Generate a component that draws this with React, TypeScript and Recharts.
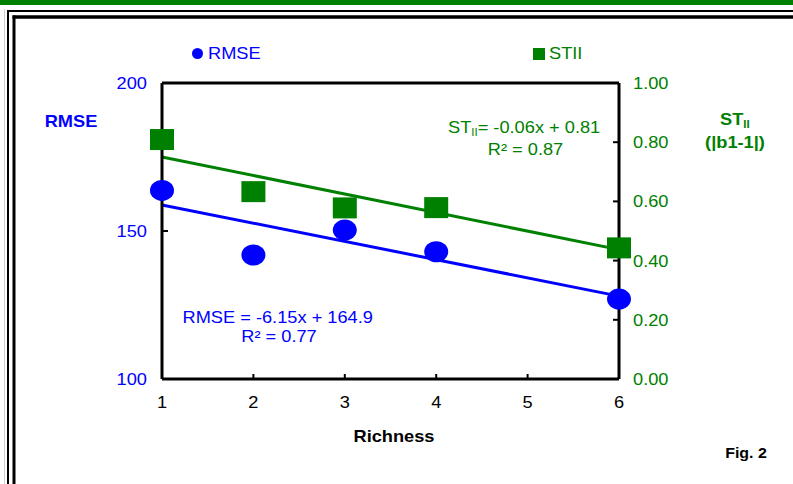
// Richness vs RMSE and ST_II scatter with linear trend lines (Fig. 2).
import type { FC } from "react";
import {
  ComposedChart,
  Scatter,
  XAxis,
  YAxis,
  ReferenceLine,
} from "recharts";

const richness = [1, 2, 3, 4, 6];
const rmseValues = [163.7, 141.9, 150.3, 143.0, 127.0];
const stiiValues = [0.809, 0.633, 0.578, 0.579, 0.443];

// trend lines, read at the two ends of the x range
const trendX = [1, 6];
const rmseTrend = [158.8, 128.0];
const stiiTrend = [0.75, 0.437];

const xTicks = [1, 2, 3, 4, 5, 6];
const leftTicks = [100, 150, 200];
const rightTicks = [0, 0.2, 0.4, 0.6, 0.8, 1.0];

const rmseData = richness.map((x, i) => ({ x, y: rmseValues[i] }));
const stiiData = richness.map((x, i) => ({ x, y: stiiValues[i] }));

const BLUE = "#0000FF";
const GREEN = "#008000";
const FONT = "'Liberation Sans', Arial, Helvetica, sans-serif";
const SX = 1.14;
const AXIS = { stroke: "#000", strokeWidth: 3 };

const T: FC<{
  x: number;
  y: number;
  size?: number;
  bold?: boolean;
  fill?: string;
  anchor?: "start" | "middle" | "end";
  children: any;
}> = ({ x, y, size = 16, bold = false, fill = "#000", anchor = "start", children }) => (
  <text
    transform={`translate(${x},${y}) scale(${SX},1)`}
    fontFamily={FONT}
    fontSize={size}
    fontWeight={bold ? "bold" : "normal"}
    fill={fill}
    textAnchor={anchor}
  >
    {children}
  </text>
);

const XTick = (props: any) => {
  const { x, y, payload } = props;
  return (
    <g>
      <line x1={x} y1={y} x2={x} y2={y - 5} stroke="#000" strokeWidth={2} />
      <T x={x} y={y + 29} anchor="middle">
        {payload.value}
      </T>
    </g>
  );
};

const LeftTick = (props: any) => {
  const { x, y, payload } = props;
  return (
    <g>
      <line x1={x} y1={y} x2={x + 6} y2={y} stroke="#000" strokeWidth={2} />
      <T x={x - 15} y={y + 6} anchor="end" fill={BLUE}>
        {payload.value}
      </T>
    </g>
  );
};

const RightTick = (props: any) => {
  const { x, y, payload } = props;
  return (
    <g>
      <line x1={x} y1={y} x2={x - 6} y2={y} stroke="#000" strokeWidth={2} />
      <T x={x + 14} y={y + 6} anchor="start" fill={GREEN}>
        {Number(payload.value).toFixed(2)}
      </T>
    </g>
  );
};

const CircleMark = (p: any) => <ellipse cx={p.cx} cy={p.cy} rx={12} ry={10.5} fill={BLUE} />;
const SquareMark = (p: any) => (
  <rect x={p.cx - 12} y={p.cy - 10.5} width={24} height={21} fill={GREEN} />
);

const Backdrop: FC = () => (
  <svg
    width={793}
    height={484}
    style={{ position: "absolute", left: 0, top: 0 }}
  >
    <rect x={0} y={0} width={793} height={5} fill={GREEN} />
    <line x1={4.5} y1={9} x2={4.5} y2={484} stroke="#d0d0d0" strokeWidth={1} />
    {/* outer thin frame */}
    <line x1={7} y1={11} x2={793} y2={11} stroke="#000" strokeWidth={2} />
    <line x1={8} y1={10} x2={8} y2={484} stroke="#000" strokeWidth={2} />
    {/* inner thick frame */}
    <line x1={12.5} y1={17} x2={793} y2={17} stroke="#000" strokeWidth={3.5} />
    <line x1={14} y1={15.5} x2={14} y2={484} stroke="#000" strokeWidth={3} />

    {/* legend */}
    <circle cx={197.5} cy={53.5} r={5.5} fill={BLUE} />
    <T x={208} y={58.5} fill={BLUE}>RMSE</T>
    <rect x={533} y={48} width={12} height={12} fill={GREEN} />
    <T x={549} y={59} fill={GREEN}>STII</T>

    {/* axis titles */}
    <T x={71} y={127} bold fill={BLUE} anchor="middle">RMSE</T>
    <text
      transform={`translate(720,125) scale(${SX},1)`}
      fontFamily={FONT}
      fontSize={16}
      fontWeight="bold"
      fill={GREEN}
    >
      ST
      <tspan fontSize={10} dy={3}>II</tspan>
    </text>
    <T x={735} y={148} bold fill={GREEN} anchor="middle">(|b1-1|)</T>
    <T x={394} y={442} bold anchor="middle">Richness</T>
    <T x={746} y={458} size={14} bold anchor="middle">Fig. 2</T>

    {/* regression annotations */}
    <text
      transform={`translate(448,133) scale(${SX},1)`}
      fontFamily={FONT}
      fontSize={16}
      fill={GREEN}
    >
      ST
      <tspan fontSize={10} dy={3}>II</tspan>
      <tspan dy={-3}>= -0.06x + 0.81</tspan>
    </text>
    <T x={525.5} y={155} fill={GREEN} anchor="middle">R² = 0.87</T>
    <T x={182.5} y={323} fill={BLUE}>RMSE = -6.15x + 164.9</T>
    <T x={279} y={342} fill={BLUE} anchor="middle">R² = 0.77</T>
  </svg>
);

const App: FC = () => {
  return (
    <div
      style={{
        position: "absolute",
        left: 0,
        top: 0,
        width: 793,
        height: 484,
        background: "#fff",
        overflow: "hidden",
      }}
    >
      <Backdrop />
      <div style={{ position: "absolute", left: 0, top: 0 }}>
        <ComposedChart
          width={793}
          height={484}
          margin={{ top: 82, right: 74, bottom: 75, left: 100 }}
        >
          <XAxis
            xAxisId="top"
            orientation="top"
            type="number"
            dataKey="x"
            domain={[1, 6]}
            height={1}
            tick={false}
            tickLine={false}
            axisLine={AXIS}
          />
          <XAxis
            type="number"
            dataKey="x"
            domain={[1, 6]}
            ticks={xTicks}
            interval={0}
            height={30}
            tickSize={0}
            tickMargin={0}
            tick={<XTick />}
            axisLine={AXIS}
          />
          <YAxis
            yAxisId="left"
            type="number"
            dataKey="y"
            domain={[100, 200]}
            ticks={leftTicks}
            interval={0}
            width={62}
            tickSize={0}
            tickMargin={0}
            tick={<LeftTick />}
            axisLine={AXIS}
          />
          <YAxis
            yAxisId="right"
            orientation="right"
            type="number"
            dataKey="y"
            domain={[0, 1]}
            ticks={rightTicks}
            interval={0}
            width={100}
            tickSize={0}
            tickMargin={0}
            tick={<RightTick />}
            axisLine={AXIS}
          />
          <ReferenceLine
            yAxisId="right"
            segment={[
              { x: trendX[0], y: stiiTrend[0] },
              { x: trendX[1], y: stiiTrend[1] },
            ]}
            stroke={GREEN}
            strokeWidth={3}
          />
          <ReferenceLine
            yAxisId="left"
            segment={[
              { x: trendX[0], y: rmseTrend[0] },
              { x: trendX[1], y: rmseTrend[1] },
            ]}
            stroke={BLUE}
            strokeWidth={3}
          />
          <Scatter
            yAxisId="right"
            data={stiiData}
            dataKey="y"
            shape={<SquareMark />}
            isAnimationActive={false}
          />
          <Scatter
            yAxisId="left"
            data={rmseData}
            dataKey="y"
            shape={<CircleMark />}
            isAnimationActive={false}
          />
        </ComposedChart>
      </div>
    </div>
  );
};

export default App;
